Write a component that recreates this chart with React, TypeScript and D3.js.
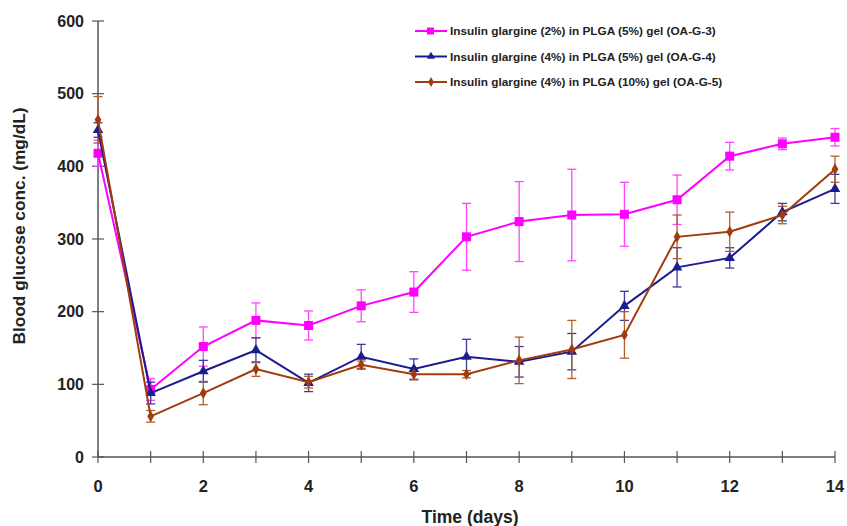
import React from "react";
import * as d3 from "d3";

const days = [0, 1, 2, 3, 4, 5, 6, 7, 8, 9, 10, 11, 12, 13, 14];
const pinkVals = [418, 93, 152, 188, 181, 208, 227, 303, 324, 333, 334, 354, 414, 431, 440];
const pinkErr = [18, 15, 27, 24, 20, 22, 28, 46, 55, 63, 44, 34, 19, 8, 12];
const blueVals = [450, 88, 118, 147, 102, 138, 121, 138, 131, 145, 208, 261, 274, 337, 369];
const blueErr = [10, 15, 15, 17, 12, 17, 14, 24, 21, 25, 20, 27, 14, 12, 20];
const brownVals = [464, 56, 88, 121, 103, 127, 114, 114, 133, 148, 168, 303, 310, 333, 396];
const brownErr = [32, 8, 16, 10, 8, 5, 8, 5, 32, 40, 32, 30, 27, 12, 18];
const seriesNames = [
  "Insulin glargine (2%) in PLGA (5%) gel (OA-G-3)",
  "Insulin glargine (4%) in PLGA (5%) gel (OA-G-4)",
  "Insulin glargine (4%) in PLGA (10%) gel (OA-G-5)",
];
const yTicks = [0, 100, 200, 300, 400, 500, 600];
const xLabelTicks = [0, 2, 4, 6, 8, 10, 12, 14];

const W = 847, H = 526;
const m = { left: 98, right: 835, top: 21, bottom: 457 };

export default function App() {
  const x = d3.scaleLinear().domain([0, 14]).range([m.left, m.right]);
  const y = d3.scaleLinear().domain([0, 600]).range([m.bottom, m.top]);

  const series = [
    { name: seriesNames[0], vals: pinkVals, err: pinkErr, color: "#ff00ff", errColor: "#ff44ff", marker: "square" },
    { name: seriesNames[1], vals: blueVals, err: blueErr, color: "#1c1c8e", errColor: "#3a3aa0", marker: "triangle" },
    { name: seriesNames[2], vals: brownVals, err: brownErr, color: "#a23c0e", errColor: "#b0602a", marker: "diamond" },
  ];

  const line = d3.line<number>().x((_, i) => x(days[i])).y((v) => y(v));

  const marker = (type: string, cx: number, cy: number, color: string, key: string) => {
    if (type === "square") {
      return <rect key={key} x={cx - 4.5} y={cy - 4.5} width={9} height={9} fill={color} />;
    }
    if (type === "triangle") {
      const p = d3.symbol(d3.symbolTriangle, 48)();
      return <path key={key} d={p || ""} transform={`translate(${cx},${cy})`} fill={color} />;
    }
    const p = d3.symbol(d3.symbolDiamond, 40)();
    return <path key={key} d={p || ""} transform={`translate(${cx},${cy})`} fill={color} />;
  };

  const font = "Arial, 'Liberation Sans', sans-serif";

  return (
    <svg width={W} height={H} style={{ position: "absolute", left: 0, top: 0, background: "#fff" }} fontFamily={font}>
      {/* axes */}
      <line x1={m.left} x2={m.left} y1={y(600)} y2={y(0)} stroke="#555" strokeWidth={1.5} />
      <line x1={m.left} x2={m.right} y1={y(0)} y2={y(0)} stroke="#555" strokeWidth={1.5} />
      {yTicks.map((t) => (
        <g key={"yt" + t}>
          <line x1={m.left - 6} x2={m.left + 6} y1={y(t)} y2={y(t)} stroke="#555" strokeWidth={1.2} />
          <text x={84} y={y(t)} dy="0.36em" textAnchor="end" fontSize={16} fontWeight="bold" fill="#222">{t}</text>
        </g>
      ))}
      {days.map((d) => (
        <line key={"xt" + d} x1={x(d)} x2={x(d)} y1={y(0) - 6} y2={y(0) + 6} stroke="#555" strokeWidth={1.2} />
      ))}
      {xLabelTicks.map((d) => (
        <text key={"xl" + d} x={x(d)} y={492} textAnchor="middle" fontSize={16.5} fontWeight="bold" fill="#222">{d}</text>
      ))}
      <text x={470} y={523} textAnchor="middle" fontSize={17.5} fontWeight="bold" fill="#222">Time (days)</text>
      <text transform={`translate(25,226) rotate(-90)`} textAnchor="middle" fontSize={17.3} fontWeight="bold" fill="#222">
        Blood glucose conc. (mg/dL)
      </text>

      {/* error bars */}
      {series.map((s, si) => (
        <g key={"eb" + si}>
          {s.vals.map((v, i) => {
            const cx = x(days[i]);
            const top = y(v + s.err[i]);
            const bot = y(v - s.err[i]);
            return (
              <g key={i} stroke={s.errColor} strokeWidth={1.3}>
                <line x1={cx} x2={cx} y1={top} y2={bot} />
                <line x1={cx - 4.5} x2={cx + 4.5} y1={top} y2={top} />
                <line x1={cx - 4.5} x2={cx + 4.5} y1={bot} y2={bot} />
              </g>
            );
          })}
        </g>
      ))}

      {/* lines and markers */}
      {series.map((s, si) => (
        <g key={"s" + si}>
          <path d={line(s.vals) || ""} fill="none" stroke={s.color} strokeWidth={2} />
          {s.vals.map((v, i) => marker(s.marker, x(days[i]), y(v), s.color, "m" + i))}
        </g>
      ))}

      {/* legend */}
      {series.map((s, si) => {
        const ly = 31 + si * 25.5;
        return (
          <g key={"lg" + si}>
            <line x1={415} x2={447} y1={ly} y2={ly} stroke={s.color} strokeWidth={2} />
            {s.marker === "square" ? (
              <rect x={427} y={ly - 3.5} width={7} height={7} fill={s.color} />
            ) : (
              <path d={d3.symbol(s.marker === "triangle" ? d3.symbolTriangle : d3.symbolDiamond, 28)() || ""} transform={`translate(431,${ly})`} fill={s.color} />
            )}
            <text x={450} y={ly} dy="0.35em" fontSize={11.8} fontWeight="bold" fill="#222">{s.name}</text>
          </g>
        );
      })}
    </svg>
  );
}
